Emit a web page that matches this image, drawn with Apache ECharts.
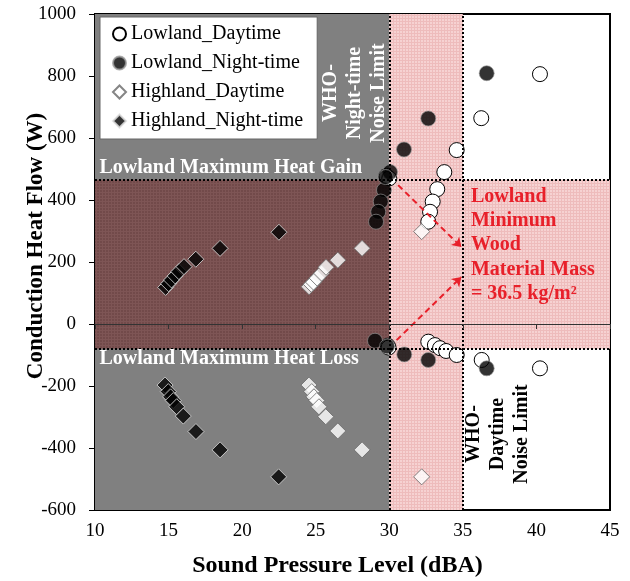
<!DOCTYPE html>
<html>
<head>
<meta charset="utf-8">
<script src="https://cdn.jsdelivr.net/npm/echarts@6/dist/echarts.min.js"></script>
<style>
  html, body { margin: 0; padding: 0; background: #fff; }
  #main { width: 630px; height: 581px; }
</style>
</head>
<body>
<div id="main"></div>
<script>
// Sound pressure level (dBA) and conduction heat flow (W) per scenario
const lowlandDayDba   = [40.24, 36.25, 34.58, 33.74, 33.26, 32.95, 32.77, 32.65, 29.8, 30.0, 29.9, 29.95, 32.65, 33.1, 33.45, 33.86, 34.58, 36.28, 40.24];
const lowlandDayHeat  = [806, 664, 561, 490, 435, 395, 362, 330, 478, 470, -70, -76, -57, -68, -78, -87, -100, -116, -143];
const lowlandNightDba  = [36.62, 32.65, 31.0, 30.05, 29.64, 29.42, 29.25, 29.1, 29.75, 29.03, 29.85, 31.02, 32.65, 36.62];
const lowlandNightHeat = [809, 663, 563, 490, 432, 395, 362, 330, 474, -54, -72, -98, -116, -143];
const highlandDayDba   = [24.55, 24.7, 24.85, 25.1, 25.4, 25.7, 26.5, 28.15, 32.2, 24.54, 24.73, 24.88, 25.07, 25.22, 25.68, 26.5, 28.15, 32.2];
const highlandDayHeat  = [120, 128, 135, 148, 164, 183, 206, 244, 298, -197, -218, -235, -247, -267, -299, -345, -406, -493];
const highlandNightDba  = [14.8, 15.0, 15.2, 15.45, 15.7, 16.05, 16.85, 18.5, 22.5, 14.76, 14.98, 15.14, 15.32, 15.55, 16.0, 16.86, 18.5, 22.48];
const highlandNightHeat = [118, 130, 142, 155, 169, 185, 209, 244, 296, -197, -218, -235, -247, -267, -297, -347, -406, -493];

const seriesNames = ['Lowland_Daytime', 'Lowland_Night-time', 'Highland_Daytime', 'Highland_Night-time'];

// Reference limits
const nightNoiseLimit = 30;   // dBA
const dayNoiseLimit = 35;     // dBA
const maxHeatGain = 465;      // W
const maxHeatLoss = -80;      // W

const xTicks = { min: 10, max: 45, step: 5 };
const yTicks = { min: -600, max: 1000, step: 200 };

const SERIF = '"Liberation Serif", "Times New Roman", serif';

function zip(xs, ys) { return xs.map((x, i) => [x, ys[i]]); }

// small crosshatch textures for the shaded bands
function hatch(base, line) {
  const c = document.createElement('canvas');
  c.width = 3; c.height = 3;
  const g = c.getContext('2d');
  g.fillStyle = base; g.fillRect(0, 0, 3, 3);
  g.fillStyle = line; g.fillRect(0, 0, 3, 1); g.fillRect(0, 0, 1, 3);
  return { image: c, repeat: 'repeat' };
}
const pinkFill = hatch('#f6d2d2', '#eebcbc');
const darkFill = hatch('#724a4a', '#7e5555');

const chart = echarts.init(document.getElementById('main'));

const option = {
  animation: false,
  backgroundColor: '#fff',
  grid: {
    left: 95, right: 20, top: 14, bottom: 71,
    outerBoundsMode: 'none', containLabel: false,
    show: true, borderColor: '#000', borderWidth: 2, backgroundColor: '#fff'
  },
  legend: {
    data: seriesNames,
    orient: 'vertical',
    left: 100, top: 17,
    backgroundColor: '#fff',
    borderColor: '#666', borderWidth: 1,
    padding: [7, 14, 8, 12],
    itemGap: 9,
    itemWidth: 13, itemHeight: 13,
    textStyle: { fontFamily: SERIF, fontSize: 20, color: '#000', lineHeight: 20 }
  },
  xAxis: [
    {
      type: 'value', min: xTicks.min, max: xTicks.max, interval: xTicks.step,
      position: 'bottom',
      name: 'Sound Pressure Level (dBA)', nameLocation: 'middle', nameGap: 44,
      nameMoveOverlap: false,
      nameTextStyle: { fontFamily: SERIF, fontSize: 24, fontWeight: 'bold', color: '#000', padding: [0, 30, 0, 0] },
      axisLine: { show: false, onZero: false },
      axisTick: { show: false },
      axisLabel: { fontFamily: SERIF, fontSize: 19, color: '#000', margin: 12 },
      splitLine: { show: false }
    },
    {
      type: 'value', min: xTicks.min, max: xTicks.max, interval: xTicks.step,
      position: 'top', z: 6,
      axisLine: { show: true, onZero: true, lineStyle: { color: '#333', width: 1 } },
      axisTick: { show: true, inside: true, length: 5, lineStyle: { color: '#333' } },
      axisLabel: { show: false },
      splitLine: { show: false }
    }
  ],
  yAxis: {
    type: 'value', min: yTicks.min, max: yTicks.max, interval: yTicks.step,
    name: 'Conduction Heat Flow (W)', nameLocation: 'middle', nameGap: 47,
    nameMoveOverlap: false,
    nameTextStyle: { fontFamily: SERIF, fontSize: 23, fontWeight: 'bold', color: '#000', padding: [0, 0, 0, 32] },
    axisLine: { show: false, onZero: false },
    axisTick: { show: true, length: 6, lineStyle: { color: '#000' } },
    axisLabel: { fontFamily: SERIF, fontSize: 19, color: '#000', margin: 19, formatter: v => String(v) },
    splitLine: { show: false }
  },
  series: [
    {
      name: 'zones', type: 'line', data: [], z: 1, silent: true,
      markArea: {
        silent: true,
        data: [
          [{ coord: [xTicks.min, yTicks.min], itemStyle: { color: '#808080' } }, { coord: [nightNoiseLimit, yTicks.max] }],
          [{ coord: [nightNoiseLimit, yTicks.min], itemStyle: { color: pinkFill } }, { coord: [dayNoiseLimit, yTicks.max] }],
          [{ coord: [dayNoiseLimit, maxHeatLoss], itemStyle: { color: pinkFill } }, { coord: [xTicks.max, maxHeatGain] }],
          [{ coord: [xTicks.min, maxHeatLoss], itemStyle: { color: darkFill } }, { coord: [nightNoiseLimit, maxHeatGain] }]
        ]
      },
      markLine: {
        silent: true, symbol: ['none', 'none'],
        label: { show: false },
        lineStyle: { color: '#000', type: [2, 2], width: 2 },
        data: [
          [{ coord: [nightNoiseLimit, yTicks.min] }, { coord: [nightNoiseLimit, yTicks.max] }],
          [{ coord: [dayNoiseLimit, yTicks.min] }, { coord: [dayNoiseLimit, yTicks.max] }],
          [{ coord: [xTicks.min, maxHeatGain] }, { coord: [xTicks.max, maxHeatGain] }],
          [{ coord: [xTicks.min, maxHeatLoss] }, { coord: [xTicks.max, maxHeatLoss] }]
        ]
      }
    },
    {
      name: seriesNames[0], type: 'scatter', z: 3,
      symbol: 'circle', symbolSize: 15,
      itemStyle: { color: '#fff', borderColor: '#000', borderWidth: 1, opacity: 1 },
      data: zip(lowlandDayDba, lowlandDayHeat)
    },
    {
      name: seriesNames[1], type: 'scatter', z: 3,
      symbol: 'circle', symbolSize: 15,
      itemStyle: { color: '#000', borderColor: '#999', borderWidth: 0.8 },
      data: zip(lowlandNightDba, lowlandNightHeat)
    },
    {
      name: seriesNames[2], type: 'scatter', z: 3,
      symbol: 'diamond', symbolSize: 16,
      itemStyle: { color: '#fff', borderColor: '#666', borderWidth: 1 },
      data: zip(highlandDayDba, highlandDayHeat)
    },
    {
      name: seriesNames[3], type: 'scatter', z: 3,
      symbol: 'diamond', symbolSize: 16,
      itemStyle: { color: '#000', borderColor: '#ddd', borderWidth: 1 },
      data: zip(highlandNightDba, highlandNightHeat)
    },
    {
      name: 'arrows', type: 'line', data: [], z: 4, silent: true,
      markLine: {
        silent: true, symbol: ['none', 'arrow'], symbolSize: 9,
        label: { show: false },
        lineStyle: { color: '#e8202a', type: [6, 4], width: 2 },
        data: [
          [{ coord: [30.6, 448] }, { coord: [34.9, 248] }],
          [{ coord: [30.5, -52] }, { coord: [34.9, 152] }]
        ]
      }
    }
  ]
};

chart.setOption(option);

// annotation texts anchored in data space
const px = (x, y) => chart.convertToPixel({ gridIndex: 0 }, [x, y]);
const gain = px(10.3, 503);
const loss = px(10.3, -113);
const nightNote = px(27.67, 745);
const dayNote = px(37.39, -355);
const woodNote = px(35.55, 450);

chart.setOption({
  graphic: [
    { type: 'text', x: gain[0], y: gain[1], z: 10,
      style: { text: 'Lowland Maximum Heat Gain', fill: '#fff', font: 'bold 20px ' + SERIF, align: 'left', verticalAlign: 'middle' } },
    { type: 'text', x: loss[0], y: loss[1], z: 10,
      style: { text: 'Lowland Maximum Heat Loss', fill: '#fff', font: 'bold 20px ' + SERIF, align: 'left', verticalAlign: 'middle' } },
    { type: 'text', x: nightNote[0], y: nightNote[1], rotation: Math.PI / 2, z: 10,
      style: { text: 'WHO-\nNight-time\nNoise Limit', fill: '#fff', font: 'bold 20px ' + SERIF, align: 'center', verticalAlign: 'middle', lineHeight: 24 } },
    { type: 'text', x: dayNote[0], y: dayNote[1], rotation: Math.PI / 2, z: 10,
      style: { text: 'WHO-\nDaytime\nNoise Limit', fill: '#000', font: 'bold 20px ' + SERIF, align: 'center', verticalAlign: 'middle', lineHeight: 24 } },
    { type: 'text', x: woodNote[0], y: woodNote[1], z: 10,
      style: { text: 'Lowland\nMinimum\nWood\nMaterial Mass\n= 36.5 kg/m²', fill: '#e8202a', font: 'bold 20px ' + SERIF, align: 'left', verticalAlign: 'top', lineHeight: 24.3 } }
  ]
});
</script>
</body>
</html>
